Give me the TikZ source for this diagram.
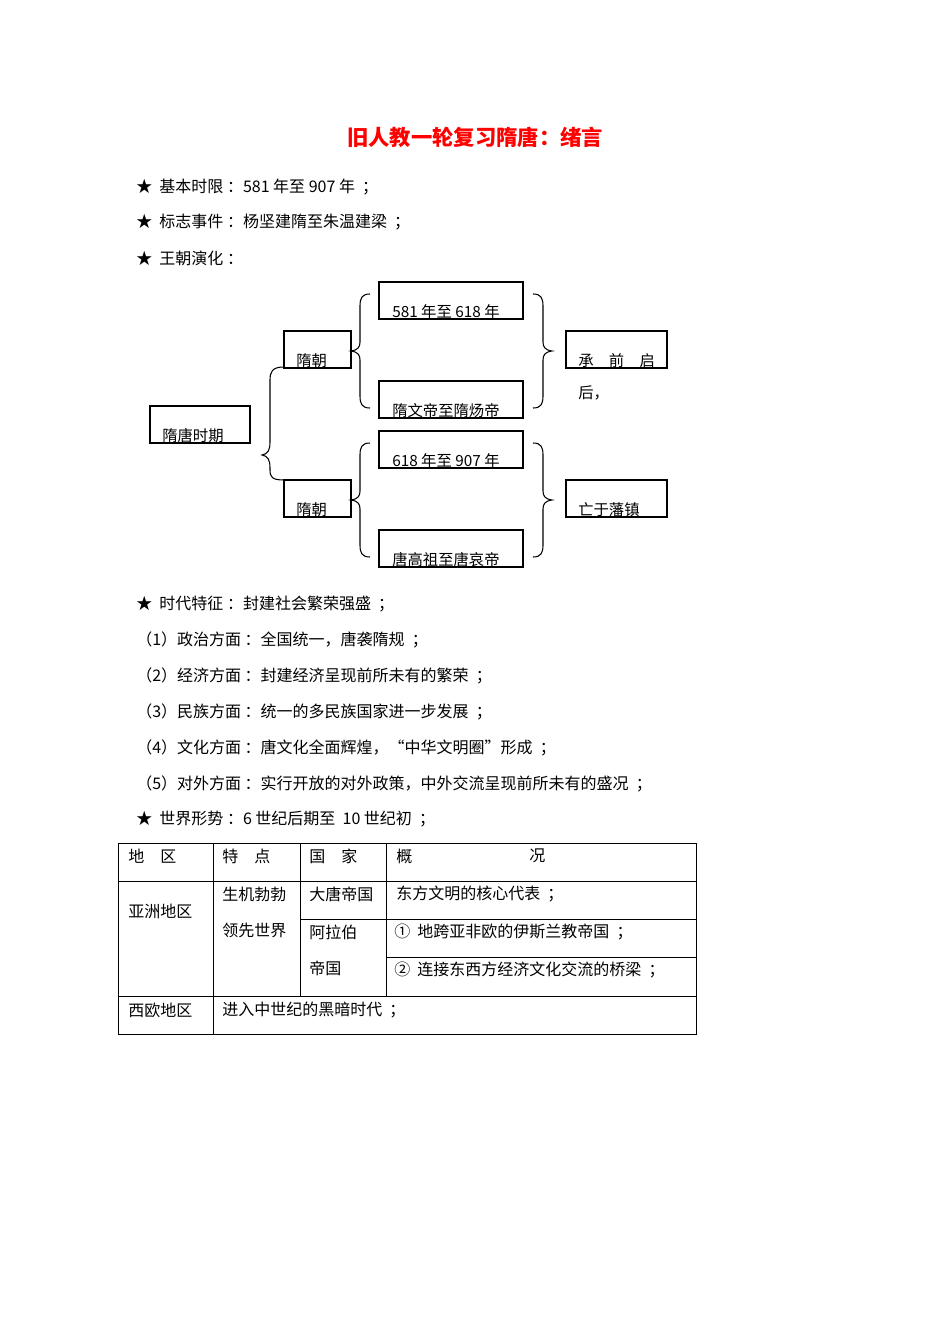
\documentclass[tikz,border=0pt]{standalone}
\usepackage{fontspec}
\setmainfont{Noto Sans CJK SC}
\newfontfamily\cjk{Noto Sans CJK SC}
\begin{document}
\begin{tikzpicture}[x=0.75pt,y=-0.75pt,
  tx/.style={anchor=west,inner sep=0,font=\fontsize{12}{13}\selectfont},
  bx/.style={draw,line width=0.8pt},
  bl/.style={anchor=base west,inner sep=0,font=\fontsize{11.5}{13}\selectfont},
  br/.style={line width=0.8pt}]
\useasboundingbox (0,0) rectangle (950,1344);
\node[anchor=center,inner sep=0,text=red,font=\fontsize{16}{18}\selectfont\bfseries] (title) at (475,137) {旧人教一轮复习隋唐：绪言};
\node[tx] (l1) at (136,187) {★ \ 基本时限 ：581 年至 907 年 \ ；};
\node[tx] (l2) at (136,222) {★ \ 标志事件 ：杨坚建隋至朱温建梁 \ ；};
\node[tx] (l3) at (136,258) {★ \ 王朝演化 ：};
% boxes
\draw[bx] (150,406) rectangle (250,443); \node[bl] (a) at (162,441) {隋唐时期};
\draw[bx] (284,331) rectangle (351,368); \node[bl] (s1) at (296,366) {隋朝};
\draw[bx] (284,480) rectangle (351,517); \node[bl] (s2) at (296,515) {隋朝};
\draw[bx] (379,282) rectangle (523,319); \node[bl] (b1) at (392,317) {581 年至 618 年};
\draw[bx] (379,381) rectangle (523,418); \node[bl] (b2) at (392,416) {隋文帝至隋炀帝};
\draw[bx] (379,431) rectangle (523,468); \node[bl] (b3) at (392,466) {618 年至 907 年};
\draw[bx] (379,530) rectangle (523,567); \node[bl] (b4) at (392,565) {唐高祖至唐哀帝};
\draw[bx] (566,331) rectangle (667,368); \node[bl] (r1) at (578,366) {承　前　启};
\node[bl] (r1b) at (578,398) {后，};
\draw[bx] (566,480) rectangle (667,517); \node[bl] (r2) at (578,515) {亡于藩镇};
% braces
\draw[br] (284,367) .. controls (272,367) and (270,372) .. (270,380) -- (270,442) .. controls (270,450) and (268,454) .. (262,455)
  .. controls (268,456) and (270,460) .. (270,468) -- (270,470) .. controls (270,477) and (272,480) .. (284,480);
\foreach \t in {294,443}{
 \draw[br] (370,\t) .. controls (362,\t) and (360,\t+4) .. (360,\t+12) -- (360,\t+48) .. controls (360,\t+53) and (358,\t+56) .. (351,\t+57)
  .. controls (358,\t+58) and (360,\t+61) .. (360,\t+66) -- (360,\t+102) .. controls (360,\t+110) and (362,\t+114) .. (370,\t+114);
 \draw[br] (533,\t) .. controls (541,\t) and (543,\t+4) .. (543,\t+12) -- (543,\t+48) .. controls (543,\t+53) and (545,\t+56) .. (552,\t+57)
  .. controls (545,\t+58) and (543,\t+61) .. (543,\t+66) -- (543,\t+102) .. controls (543,\t+110) and (541,\t+114) .. (533,\t+114);
}
\node[tx] (f0) at (136,604) {★ \ 时代特征 ：封建社会繁荣强盛 \ ；};
\node[tx] (f1) at (136,640) {（1）政治方面 ：全国统一，唐袭隋规 \ ；};
\node[tx] (f2) at (136,676) {（2）经济方面 ：封建经济呈现前所未有的繁荣 \ ；};
\node[tx] (f3) at (136,712) {（3）民族方面 ：统一的多民族国家进一步发展 \ ；};
\node[tx] (f4) at (136,748) {（4）文化方面 ：唐文化全面辉煌，“中华文明圈”形成 \ ；};
\node[tx] (f5) at (136,784) {（5）对外方面 ：实行开放的对外政策，中外交流呈现前所未有的盛况 \ ；};
\node[tx] (f6) at (136,819) {★ \ 世界形势 ：6 世纪后期至 \ 10 世纪初 \ ；};
% table
\draw[line width=0.6pt] (118,843) rectangle (696,1034);
\draw[line width=0.6pt] (118,881) -- (696,881) (300,919) -- (696,919) (386,957) -- (696,957) (118,996) -- (696,996);
\draw[line width=0.6pt] (213,843) -- (213,1034) (300,843) -- (300,996) (386,843) -- (386,996);
\node[tx] (h1) at (128,856) {地　区};
\node[tx] (h2) at (222,856) {特　点};
\node[tx] (h3) at (309,856) {国　家};
\node[tx] (h4) at (396,856) {概};
\node[tx] (h5) at (529,856) {况};
\node[tx] (c1) at (128,911) {亚洲地区};
\node[tx] (c2) at (222,894) {生机勃勃};
\node[tx] (c3) at (222,930) {领先世界};
\node[tx] (c4) at (309,894) {大唐帝国};
\node[tx] (c5) at (309,932) {阿拉伯};
\node[tx] (c6) at (309,968) {帝国};
\node[tx] (c7) at (396,894) {东方文明的核心代表 \ ；};
\node[tx] (c8) at (394,932) {① \ 地跨亚非欧的伊斯兰教帝国 \ ；};
\node[tx] (c9) at (394,970) {② \ 连接东西方经济文化交流的桥梁 \ ；};
\node[tx] (c10) at (128,1010) {西欧地区};
\node[tx] (c11) at (222,1010) {进入中世纪的黑暗时代 \ ；};
\end{tikzpicture}
\end{document}
